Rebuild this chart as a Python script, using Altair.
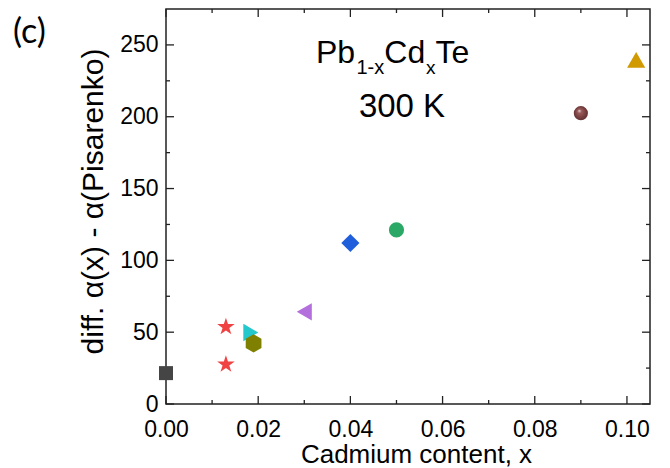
import altair as alt
import pandas as pd

# ---- data ----
series = ["s1", "s2", "s2", "s3", "s4", "s5", "s6", "s7", "s8", "s9"]
cd_x = [0.0, 0.013, 0.013, 0.0184, 0.019, 0.030, 0.040, 0.050, 0.090, 0.102]
diff_y = [21.5, 53.7, 27.6, 49.8, 42.2, 64.2, 112.1, 121.2, 202.5, 239.6]

series_names = ["s1", "s2", "s3", "s4", "s5", "s6", "s7", "s9"]
series_colors = ["#454545", "#f04242", "#22c8cc", "#808000", "#b36fdc", "#1f5fdc", "#2ca866", "#d09a00"]
STAR = "M0,-1 L0.225,-0.309 L0.951,-0.309 L0.363,0.118 L0.588,0.809 L0,0.382 L-0.588,0.809 L-0.363,0.118 L-0.951,-0.309 L-0.225,-0.309 Z"
HEX = "M0,-1 L0.866,-0.5 L0.866,0.5 L0,1 L-0.866,0.5 L-0.866,-0.5 Z"
series_shapes = ["square", STAR, "triangle-right", HEX, "triangle-left", "diamond", "circle", "triangle-up"]
series_sizes = [196, 340, 300, 330, 300, 330, 230, 330]

x_major = [0.0, 0.02, 0.04, 0.06, 0.08, 0.10]
x_minor = [0.01, 0.03, 0.05, 0.07, 0.09]
y_major = [0, 50, 100, 150, 200, 250]
y_minor = [25, 75, 125, 175, 225]

W, H = 484, 395
XD, YD = [0, 0.105], [0, 275]

df = pd.DataFrame({"x": cd_x, "y": diff_y, "series": series})
xs = alt.Scale(domain=XD, nice=False, zero=False)
ys = alt.Scale(domain=YD, nice=False)

base = alt.Chart(df)

pts = base.transform_filter(alt.datum.series != "s8").mark_point(filled=True, opacity=1).encode(
    x=alt.X("x:Q", scale=xs,
            axis=alt.Axis(title="Cadmium content, x", values=x_major, format=".2f", ticks=False,
                          domain=False, grid=False, labelFlush=False, labelPadding=14,
                          titlePadding=0, titleFontSize=26, titleX=250)),
    y=alt.Y("y:Q", scale=ys,
            axis=alt.Axis(title="diff. α(x) - α(Pisarenko)", values=y_major, ticks=False,
                          domain=False, grid=False, labelFlush=False, labelPadding=8,
                          titlePadding=11, titleFontSize=30, titleY=192)),
    color=alt.Color("series:N", scale=alt.Scale(domain=series_names, range=series_colors), legend=None),
    shape=alt.Shape("series:N", scale=alt.Scale(domain=series_names, range=series_shapes), legend=None),
    size=alt.Size("series:N", scale=alt.Scale(type="ordinal", domain=series_names, range=series_sizes),
                  legend=None),
)

sphere = base.transform_filter(alt.datum.series == "s8").mark_point(
    filled=True, shape="circle", size=200, opacity=1, strokeWidth=0,
    fill={"gradient": "radial", "x1": 0.38, "y1": 0.32, "r1": 0.0, "x2": 0.5, "y2": 0.5, "r2": 0.55,
          "stops": [{"offset": 0.0, "color": "#f4e6e6"}, {"offset": 0.25, "color": "#9a5a5a"},
                    {"offset": 1.0, "color": "#5e2c2c"}]},
).encode(x=alt.X("x:Q", scale=xs), y=alt.Y("y:Q", scale=ys))

# inward ticks on all four sides
def xticks(vals, length):
    d = pd.DataFrame({"v": vals})
    b = alt.Chart(d).mark_rule(color="#222222", strokeWidth=1.3)
    bot = b.encode(x=alt.X("v:Q", scale=xs), y=alt.value(H), y2=alt.value(H - length))
    top = b.encode(x=alt.X("v:Q", scale=xs), y=alt.value(0), y2=alt.value(length))
    return [bot, top]

def yticks(vals, length):
    d = pd.DataFrame({"v": vals})
    b = alt.Chart(d).mark_rule(color="#222222", strokeWidth=1.3)
    left = b.encode(y=alt.Y("v:Q", scale=ys), x=alt.value(0), x2=alt.value(length))
    right = b.encode(y=alt.Y("v:Q", scale=ys), x=alt.value(W), x2=alt.value(W - length))
    return [left, right]

ticks = xticks(x_major, 8) + xticks(x_minor, 4) + yticks(y_major, 8) + yticks(y_minor, 4)

# annotations
def txt(s, x, y, size, font="Liberation Sans", align="left"):
    return alt.Chart(pd.DataFrame({"t": [s]})).mark_text(
        text=s, font=font, fontSize=size, align=align, baseline="alphabetic", color="#000000"
    ).encode(x=alt.value(x), y=alt.value(y))

labels = [
    txt("Pb", 150, 54, 32),
    txt("1-x", 190.5, 65, 20),
    txt("Cd", 218.3, 54, 32),
    txt("x", 260, 65, 19),
    txt("Te", 269.5, 54, 32),
    txt("300 K", 236, 108, 33, align="center"),
    txt("(c)", -153, 34, 34, font="Lato"),
]

chart = alt.layer(*ticks, pts, sphere, *labels).properties(
    width=W, height=H,
    background="white",
    autosize=alt.AutoSizeParams(type="none"),
    padding={"left": 166, "top": 9, "right": 20, "bottom": 64},
).configure_view(stroke="#222222", strokeWidth=1.5).configure_axis(
    labelFont="Liberation Sans", titleFont="Liberation Sans", labelFontSize=23, titleFontSize=27,
    labelColor="#000000", titleColor="#000000", titleFontWeight="normal",
)

chart.save("out.html", embed_options={"renderer": "svg", "actions": False})
